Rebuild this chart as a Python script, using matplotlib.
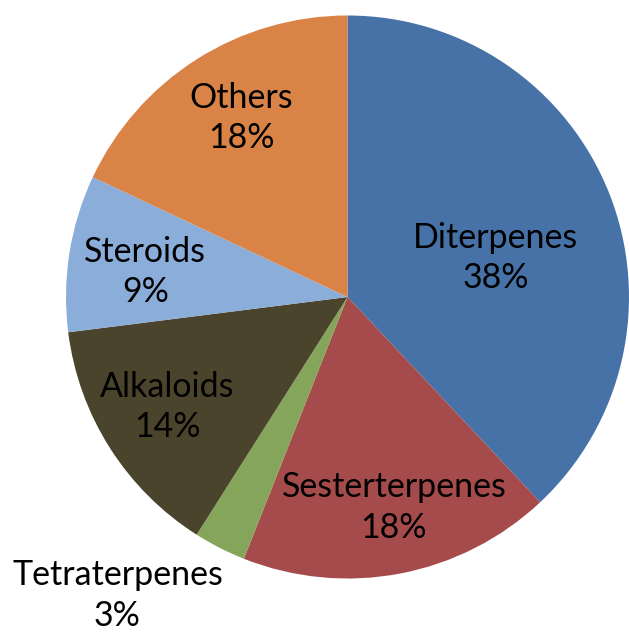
import matplotlib
matplotlib.use('Agg')
import matplotlib.pyplot as plt

# Share of compounds by class
categories = ['Diterpenes', 'Sesterterpenes', 'Tetraterpenes', 'Alkaloids', 'Steroids', 'Others']
percent = [38, 18, 3, 14, 9, 18]
colors = ['#4672A8', '#A64B4B', '#84A55A', '#49442B', '#8BADD9', '#D98446']

# label centres in pie-radius units (hand placed like the original)
label_xy = [(0.527, 0.138), (0.165, -0.748), (-0.817, -1.060),
            (-0.640, -0.390), (-0.718, 0.089), (-0.377, 0.635)]

plt.rcParams['font.family'] = ['Lato', 'DejaVu Sans']

fig = plt.figure(figsize=(6.29, 6.37), dpi=100)
ax = fig.add_axes([66/629, (637-579)/637, 563/629, 564/637])

ax.pie(percent, colors=colors, startangle=90, counterclock=False,
       radius=1, wedgeprops=dict(linewidth=0))

for name, p, (x, y) in zip(categories, percent, label_xy):
    ax.text(x, y, f'{name}\n{p}%', ha='center', va='center', fontsize=24.5,
            linespacing=1.32, color='black', clip_on=False)

ax.set_xlim(-1, 1)
ax.set_ylim(-1, 1)
ax.set_aspect('equal')
ax.axis('off')

fig.savefig('out.png', dpi=100)
